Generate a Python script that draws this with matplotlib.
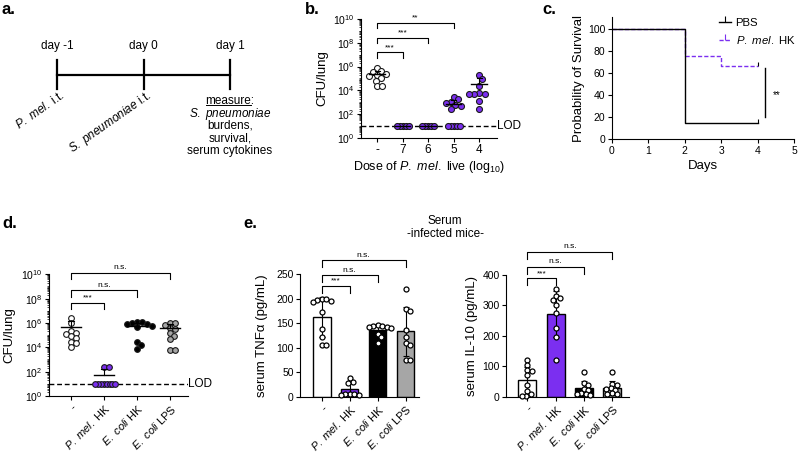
import numpy as np
import matplotlib
matplotlib.use("Agg")
import matplotlib.pyplot as plt
from matplotlib.lines import Line2D
from matplotlib.transforms import IdentityTransform, blended_transform_factory
from matplotlib.ticker import FixedLocator, FuncFormatter, NullFormatter

plt.rcParams['font.family'] = ['Liberation Sans', 'DejaVu Sans']
plt.rcParams['mathtext.fontset'] = 'custom'
plt.rcParams['mathtext.rm'] = 'Liberation Sans'
plt.rcParams['mathtext.it'] = 'Liberation Sans:italic'
plt.rcParams['mathtext.bf'] = 'Liberation Sans:bold'
plt.rcParams['axes.linewidth'] = 0.8

PURPLE = '#7b2ff0'
GRAY = '#a6a6a6'
W, H = 799, 458

#################   data   #################

# a. timeline
a_days = [-1, 0, 1]
a_day_labels = ['day -1', 'day 0', 'day 1']
a_events = [r'$\mathit{P.}$ $\mathit{mel.}$ i.t.', r'$\mathit{S.}$ $\mathit{pneumoniae}$ i.t.']
a_measure = ['measure:', r'$\mathit{S.}$ $\mathit{pneumoniae}$', 'burdens,', 'survival,', 'serum cytokines']

# b. lung CFU (log10) vs dose of live P. mel.
b_doses = ['-', '7', '6', '5', '4']
b_log_cfu = [
    [5.85, 5.6, 5.55, 5.4, 5.3, 5.25, 5.0, 4.8, 4.35, 4.35],
    [1, 1, 1, 1, 1],
    [1, 1, 1, 1, 1],
    [3.44, 3.24, 3.05, 2.97, 2.76, 2.68, 2.46, 1, 1, 1, 1, 1],
    [5.29, 4.92, 4.36, 3.81, 3.72, 3.66, 3.66, 3.1, 2.46],
]
b_sig_groups = [1, 2, 3]
b_sig_labels = ['***', '***', '**']
b_sig_log_y = [7.2, 8.43, 9.69]
log_lod = 1

# c. survival
pbs_days = [0, 2, 4]
pbs_surv = [100, 15, 15]
pmel_days = [0, 2, 3, 4]
pmel_surv = [100, 75, 66.7, 66.7]

# d. lung CFU (log10) after pretreatment
d_groups = ['-', r'$\mathit{P.}$ $\mathit{mel.}$ HK', r'$\mathit{E.}$ $\mathit{coli}$ HK',
            r'$\mathit{E.}$ $\mathit{coli}$ LPS']
d_log_cfu = [
    [6.45, 6.0, 5.3, 5.2, 5.1, 4.9, 4.8, 4.4, 4.35, 4.0],
    [2.4, 2.35, 1, 1, 1, 1, 1, 1, 1, 1],
    [6.1, 6.05, 6.0, 5.95, 5.9, 5.75, 5.65, 4.4, 4.2, 3.9],
    [6.02, 5.97, 5.83, 5.56, 5.48, 5.15, 4.93, 4.66, 3.78, 3.78],
]
d_sig_groups = [1, 2, 3]
d_sig_labels = ['***', 'n.s.', 'n.s.']
d_sig_log_y = [7.67, 8.71, 10.14]

# e. serum cytokines
tnf = [
    [199, 199, 198, 196, 194, 174, 138, 121, 105, 105],
    [38, 31, 29, 6, 5, 5, 4, 3],
    [146, 145, 144, 143, 142, 140, 128, 121, 109],
    [220, 180, 176, 136, 122, 110, 106, 75, 75],
]
tnf_sig_y = [226, 248, 279]
il10 = [
    [120, 105, 88, 85, 72, 40, 18, 8, 3, 3],
    [353, 330, 325, 318, 300, 275, 225, 195, 120],
    [82, 45, 38, 25, 22, 12, 10, 8, 6],
    [82, 42, 38, 28, 25, 22, 12, 10, 8],
]
il10_sig_y = [389, 427, 477]
e_sig_labels = ['***', 'n.s.', 'n.s.']
e_colors = ['white', PURPLE, 'black', GRAY]


#################   helpers   #################

fig = plt.figure(figsize=(W / 100, H / 100), dpi=100)


def px_axes(x0, y0, x1, y1):
    return fig.add_axes([x0 / W, 1 - y1 / H, (x1 - x0) / W, (y1 - y0) / H])


def style(ax, ticksize=7):
    for s in ['top', 'right']:
        ax.spines[s].set_visible(False)
    ax.tick_params(direction='out', length=3, width=0.8, labelsize=ticksize, pad=1.5)


def swarm(ax, xc, yvals, diam, frac):
    # simple beeswarm in display pixels
    yvals = np.asarray(yvals, float)
    disp = ax.transData.transform(np.column_stack([np.full(len(yvals), float(xc)), yvals]))
    ys = disp[:, 1]
    ppu = ax.transData.transform([[xc + 1, yvals[0]]])[0, 0] - disp[0, 0]
    step, mind = 0.1 * diam, frac * diam
    placed, offs = [], np.zeros(len(yvals))
    for i in np.argsort(-ys, kind='stable'):
        k, found = 0, None
        while found is None:
            for c in ([0.0] if k == 0 else [k * step, -k * step]):
                if all((c - px) ** 2 + (ys[i] - py) ** 2 >= mind ** 2 for px, py in placed):
                    found = c
                    break
            k += 1
        placed.append((found, ys[i]))
        offs[i] = found
    return xc + offs / ppu


def bracket(ax, x1, y, drop, label, fs=6, log=False):
    yd = y / 10 ** drop if log else y - drop
    ax.plot([0, 0, x1, x1], [yd, y, y, yd], color='k', lw=0.8, clip_on=False)
    yt = y * 10 ** 0.12 if log else y + drop * 0.2
    ax.text(x1 / 2, yt, label, ha='center', va='bottom', fontsize=fs)


def log_axis(ax):
    ax.set_yscale('log')
    ax.set_ylim(1, 1e10)
    ax.yaxis.set_major_locator(FixedLocator([10.0 ** k for k in range(0, 11, 2)]))
    minors = [s * 10.0 ** k for k in range(0, 10) for s in range(1, 10) if not (s == 1 and k % 2 == 0)]
    ax.yaxis.set_minor_locator(FixedLocator(minors))
    ax.yaxis.set_minor_formatter(NullFormatter())
    ax.yaxis.set_major_formatter(FuncFormatter(lambda v, p: r'$10^{%d}$' % round(np.log10(v))))
    ax.tick_params(axis='y', which='minor', length=1.5, width=0.5)


def cfu_panel(ax, groups, log_vals, faces, diam, ms):
    for i, vals in enumerate(log_vals):
        vals = np.asarray(vals, float)
        lod = vals <= log_lod
        y = 10 ** vals
        xs = np.zeros(len(vals))
        if (~lod).any():
            xs[~lod] = swarm(ax, i, y[~lod], diam, 0.85)
        if lod.any():
            xs[lod] = swarm(ax, i, y[lod], diam, 0.45)
        ax.plot(xs, y, 'o', ms=ms, mfc=faces[i], mec='#1a1a1a', mew=0.8, zorder=4, clip_on=False)
        m = np.mean(y)
        sd = np.std(y, ddof=1) if len(y) > 1 else 0
        ax.plot([i - 0.3, i + 0.3], [m, m], color='k', lw=1, zorder=5)
        if sd > 0:
            ax.plot([i, i], [m, m + sd], color='k', lw=0.8, zorder=5)
            ax.plot([i - 0.1, i + 0.1], [m + sd, m + sd], color='k', lw=0.8, zorder=5)
    ax.axhline(10 ** log_lod, color='k', lw=1, ls='--', dashes=(3.5, 2), zorder=1)
    tr = blended_transform_factory(ax.transAxes, ax.transData)
    ax.text(1.0, 10 ** log_lod, 'LOD', transform=tr, ha='left', va='center', fontsize=8.5)


#################   a. timeline   #################

day_px = 86.5
ax_a = px_axes(0, 0, 260, 200)
ax_a.set_xlim(-1 - 57 / day_px, -1 + 203 / day_px)
ax_a.set_ylim(200, 0)
ax_a.axis('off')
ax_a.plot([a_days[0], a_days[-1]], [75, 75], color='k', lw=1.6)
for d, lab in zip(a_days, a_day_labels):
    ax_a.plot([d, d], [60, 89], color='k', lw=1.6)
    ax_a.text(d, 46, lab, ha='center', va='center', fontsize=8.5)
for d, lab in zip(a_days[:2], a_events):
    ax_a.text(d + 0.03, 88, lab, rotation=35, rotation_mode='anchor', ha='right', va='top', fontsize=8.5)
renderer = fig.canvas.get_renderer()
for k, lab in enumerate(a_measure):
    t = ax_a.text(a_days[-1], 101 + 12.5 * k, lab, ha='center', va='center', fontsize=8.5)
    if k == 0:
        bb = t.get_window_extent(renderer)
        tmp = ax_a.text(0, 0, 'measure', fontsize=8.5)
        w = tmp.get_window_extent(renderer).width
        tmp.remove()
        fig.add_artist(Line2D([bb.x0, bb.x0 + w], [bb.y0 + 2.5, bb.y0 + 2.5], color='k', lw=0.7,
                              transform=IdentityTransform()))

#################   b. dose response   #################

ax_b = px_axes(361, 19, 497, 138)
ax_b.set_xlim(-0.63, 4.7)
log_axis(ax_b)
style(ax_b, 7.5)
ax_b.set_xticks(range(len(b_doses)))
ax_b.set_xticklabels(b_doses, fontsize=8.5)
cfu_panel(ax_b, b_doses, b_log_cfu, ['white'] + [PURPLE] * 4, 6, 4.3)
for g, lab, yb in zip(b_sig_groups, b_sig_labels, b_sig_log_y):
    bracket(ax_b, g, 10 ** yb, 0.45, lab, log=True)
ax_b.set_xlabel(r'Dose of $\mathit{P.}$ $\mathit{mel.}$ live (log$_{10}$)', fontsize=9, labelpad=2)
ax_b.set_ylabel('CFU/lung', fontsize=9.5)
ax_b.yaxis.set_label_coords((328 - 361) / 136, 0.5)

#################   c. survival   #################

ax_c = px_axes(611.7, 16.7, 794.3, 139.3)
ax_c.set_xlim(0, 5)
ax_c.set_ylim(0, 111)
style(ax_c, 7.5)
ax_c.set_xticks(range(6))
ax_c.set_yticks(range(0, 101, 20))
ax_c.step(pmel_days, pmel_surv, where='post', color=PURPLE, lw=1, ls='--', dashes=(3, 1.5))
ax_c.step(pbs_days, pbs_surv, where='post', color='k', lw=1)
ax_c.plot(pmel_days[-1], pmel_surv[-1], marker=2, ms=3, color='k', mew=0.8)
ax_c.plot(pbs_days[-1], pbs_surv[-1], marker=2, ms=3, color='k', mew=0.8)
ax_c.plot([4.2, 4.2], [20, 65], color='k', lw=1)
ax_c.text(4.52, 40, '**', ha='center', va='center', fontsize=7)
handles = [Line2D([], [], color='k', lw=1, marker=2, ms=4, mew=0.8),
           Line2D([], [], color=PURPLE, lw=1, ls='--', dashes=(3, 1.5), marker=2, ms=4, mew=0.8)]
ax_c.legend(handles, ['PBS', r'$\mathit{P.}$ $\mathit{mel.}$ HK'], loc='upper left',
            bbox_to_anchor=(0.585, 0.99), frameon=False, fontsize=8.2, handlelength=1.1,
            handletextpad=0.4, borderpad=0, borderaxespad=0, labelspacing=0.5)
ax_c.set_xlabel('Days', fontsize=9.5, labelpad=3)
ax_c.set_ylabel('Probability of Survival', fontsize=9.5, labelpad=2)

#################   d. pretreatment CFU   #################

ax_d = px_axes(49, 274.3, 188, 396)
ax_d.set_xlim(-0.667, 3.55)
log_axis(ax_d)
style(ax_d, 7.5)
ax_d.set_xticks(range(len(d_groups)))
ax_d.set_xticklabels(d_groups, fontsize=8, rotation=45, ha='right', rotation_mode='anchor')
cfu_panel(ax_d, d_groups, d_log_cfu, e_colors, 5.7, 4.1)
for g, lab, yb in zip(d_sig_groups, d_sig_labels, d_sig_log_y):
    bracket(ax_d, g, 10 ** yb, 0.55, lab, log=True)
ax_d.set_ylabel('CFU/lung', fontsize=9.5)
ax_d.yaxis.set_label_coords((15 - 49) / 139, 0.5)

#################   e. serum cytokines   #################


def cyto_panel(ax, data, sig_y, drop):
    x = np.arange(len(data))
    means = [np.mean(v) for v in data]
    sds = [np.std(v, ddof=1) for v in data]
    ax.bar(x, means, width=0.64, color=e_colors, edgecolor='k', lw=1, zorder=1)
    ax.errorbar(x, means, yerr=sds, fmt='none', ecolor='k', elinewidth=0.8, capsize=2.5,
                capthick=0.8, zorder=2)
    for i, vals in enumerate(data):
        xs = swarm(ax, i, vals, 5, 0.9)
        ax.plot(xs, vals, 'o', ms=3.6, mfc='white', mec='k', mew=0.9, zorder=3, clip_on=False)
    for g, lab, yb in zip(d_sig_groups, e_sig_labels, sig_y):
        bracket(ax, g, yb, drop, lab)
    ax.set_xticks(x)
    ax.set_xticklabels(d_groups, fontsize=8, rotation=45, ha='right', rotation_mode='anchor')


ax_t = px_axes(300, 274.3, 419.5, 396.7)
ax_t.set_xlim(-0.77, 3.5)
ax_t.set_ylim(0, 250)
style(ax_t, 7.5)
ax_t.set_yticks(range(0, 251, 50))
cyto_panel(ax_t, tnf, tnf_sig_y, 14)
ax_t.set_ylabel('serum TNFα (pg/mL)', fontsize=9.5)
ax_t.yaxis.set_label_coords((268 - 300) / 119.5, 0.5)

ax_i = px_axes(506, 275, 629, 396.7)
ax_i.set_xlim(-0.76, 3.6)
ax_i.set_ylim(0, 400)
style(ax_i, 7.5)
ax_i.set_yticks(range(0, 401, 100))
cyto_panel(ax_i, il10, il10_sig_y, 23)
ax_i.set_ylabel('serum IL-10 (pg/mL)', fontsize=9.5)
ax_i.yaxis.set_label_coords((478 - 506) / 123, 0.5)

fig.text(445 / W, 1 - 221.5 / H, 'Serum', ha='center', va='center', fontsize=8.5)
fig.text(445 / W, 1 - 234.5 / H, '-infected mice-', ha='center', va='center', fontsize=8.5)

# panel letters
for lab, x, y in [('a.', 1, 9), ('b.', 305, 9), ('c.', 542, 9), ('d.', 2, 224), ('e.', 243, 224)]:
    fig.text(x / W, 1 - y / H, lab, ha='left', va='center', fontsize=12, fontweight='bold')

fig.savefig('out.png', dpi=100)
